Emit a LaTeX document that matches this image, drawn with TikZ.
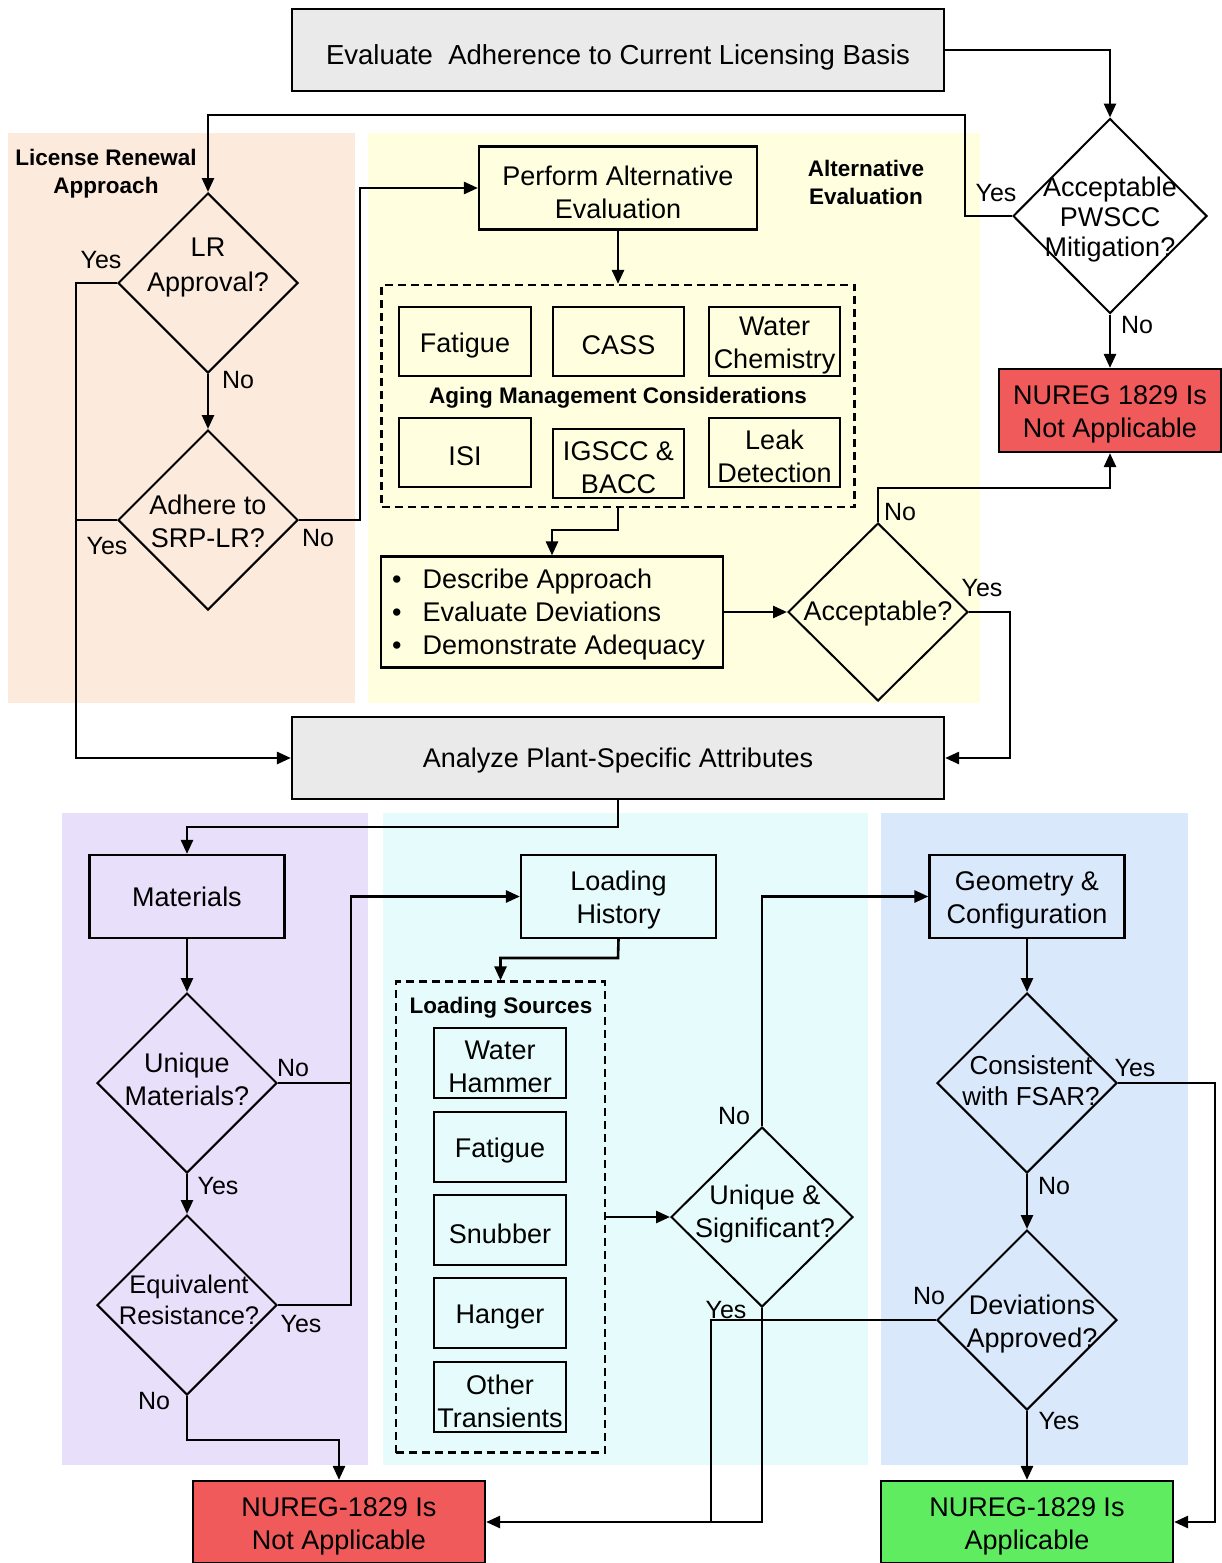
\documentclass[tikz,border=0pt]{standalone}
\usepackage{fontspec}
\setmainfont{Liberation Sans}
\usetikzlibrary{shapes.geometric,arrows.meta}
\definecolor{bgpeach}{RGB}{252,234,220}
\definecolor{bgyellow}{RGB}{255,255,224}
\definecolor{bgpurple}{RGB}{232,224,250}
\definecolor{bgcyan}{RGB}{230,252,252}
\definecolor{bgblue}{RGB}{218,232,252}
\definecolor{graybox}{RGB}{234,234,234}
\definecolor{redbox}{RGB}{240,90,90}
\definecolor{greenbox}{RGB}{96,236,96}
\newcommand\szA{\fontsize{27}{33}\selectfont}
\newcommand\szB{\fontsize{22.5}{28}\selectfont\bfseries}
\newcommand\szC{\fontsize{25}{30}\selectfont}
\tikzset{
  x=1pt, y=-1pt,
  box/.style={draw, line width=2.2pt, align=center, inner sep=0pt, font=\szA},
  btext/.style={label={[dtext, yshift=-4pt]center:#1}},
  dashbox/.style={draw, line width=2.2pt, dash pattern=on 8pt off 5pt, inner sep=0pt},
  dia/.style={draw, diamond, line width=2pt, inner sep=0pt, minimum width=180pt, minimum height=180pt},
  dtext/.style={align=center, inner sep=0pt, font=\szA},
  lbl/.style={inner sep=0pt, font=\szC},
  grp/.style={align=center, inner sep=0pt, font=\szB},
  conn/.style={line width=2.6pt, -{Triangle[length=14pt,width=12pt]}},
  plain/.style={line width=2.6pt},
}
\begin{document}
\begin{tikzpicture}
\useasboundingbox (0,0) rectangle (1222,1563);
% background regions
\fill[bgpeach] (8,133) rectangle (355,703);
\fill[bgyellow] (368,133) rectangle (980,703);
\fill[bgpurple] (62,813) rectangle (368,1465);
\fill[bgcyan] (383,813) rectangle (868,1465);
\fill[bgblue] (881,813) rectangle (1188,1465);

% group labels
\node[grp] (glr) at (106,174) {License Renewal\\Approach};
\node[grp] (gae) at (866,182) {Alternative\\Evaluation};

% top
\node[box, fill=graybox, minimum width=652pt, minimum height=82pt] (eval) at (618,50) {};
\node[dtext, font=\fontsize{27.5}{33}\selectfont] (evalt) at (618,57) {Evaluate\ \ Adherence to Current Licensing Basis};
\node[dia, fill=white, minimum width=194pt, minimum height=195pt] (pw) at (1110,216) {};
\node[dtext, font=\fontsize{27}{30}\selectfont] at (1110,220) {Acceptable\\PWSCC\\Mitigation?};
\node[box, fill=redbox, minimum width=222pt, minimum height=83pt, btext={NUREG 1829 Is\\Not Applicable}] (red1) at (1110,410.5) {};

% license renewal
\node[dia] (lr) at (208,283) {};
\node[dtext, font=\fontsize{27}{35}\selectfont] at (208,268) {LR\\Approval?};
\node[dia] (ad) at (208,520) {};
\node[dtext] at (208,521) {Adhere to\\SRP-LR?};

% alternative evaluation
\node[box, minimum width=278pt, minimum height=83pt, btext={Perform Alternative\\Evaluation}] (pe) at (618,188) {};
\node[dashbox, minimum width=473pt, minimum height=222pt] (dash1) at (618,396) {};
\node[box, minimum width=132pt, minimum height=69pt, btext={Fatigue}] (fat1) at (465,341.5) {};
\node[box, minimum width=131pt, minimum height=69pt, btext={CASS}] (cass) at (618.5,341.5) {};
\node[box, minimum width=131pt, minimum height=69pt, btext={Water\\Chemistry}] (wc) at (774.5,341.5) {};
\node[grp] (amc) at (618,398) {Aging Management Considerations};
\node[box, minimum width=132pt, minimum height=69pt, btext={ISI}] (isi) at (465,452.5) {};
\node[box, minimum width=131pt, minimum height=69pt, btext={IGSCC \&\\BACC}] (igscc) at (618.5,463.5) {};
\node[box, minimum width=131pt, minimum height=69pt, btext={Leak\\Detection}] (leak) at (774.5,452.5) {};
\node[box, minimum width=342pt, minimum height=111pt] (desc) at (552,612) {};
\node[dtext, align=left, anchor=west] at (392,615) {\textbullet\hspace{21pt}Describe Approach\\\textbullet\hspace{21pt}Evaluate Deviations\\\textbullet\hspace{21pt}Demonstrate Adequacy};
\node[dia, minimum height=178pt] (acc) at (878,612) {};
\node[dtext] at (878,614) {Acceptable?};

% analyze
\node[box, fill=graybox, minimum width=652pt, minimum height=82pt] (an) at (618,758) {};
\node[dtext] (ant) at (618,761) {Analyze Plant-Specific Attributes};

% materials
\node[box, minimum width=195pt, minimum height=83pt] (mat) at (187,896.5) {Materials};
\node[dia] (um) at (187,1083) {};
\node[dtext] at (187,1079) {Unique\\Materials?};
\node[dia] (er) at (187,1305) {};
\node[dtext, font=\fontsize{25.5}{31}\selectfont] at (189,1300) {Equivalent\\Resistance?};
\node[box, fill=redbox, minimum width=292pt, minimum height=82pt, btext={NUREG-1829 Is\\Not Applicable}] (red2) at (339,1522) {};

% loading
\node[box, minimum width=195pt, minimum height=83pt, btext={Loading\\History}] (lh) at (618.5,896.5) {};
\node[dashbox, minimum width=209pt, minimum height=471pt] (dash2) at (500.5,1217) {};
\node[grp] (ls) at (501,1008) {Loading Sources};
\node[box, minimum width=132pt, minimum height=70pt, btext={Water\\Hammer}] (wh) at (500,1063) {};
\node[box, minimum width=132pt, minimum height=70pt, btext={Fatigue}] (fat2) at (500,1147) {};
\node[box, minimum width=132pt, minimum height=70pt, btext={Snubber}] (snub) at (500,1230) {};
\node[box, minimum width=132pt, minimum height=70pt, btext={Hanger}] (hang) at (500,1313) {};
\node[box, minimum width=132pt, minimum height=70pt, btext={Other\\Transients}] (ot) at (500,1397) {};
\node[dia, minimum width=182pt] (us) at (762,1217) {};
\node[dtext] at (765,1214) {Unique \&\\Significant?};

% geometry
\node[box, minimum width=195pt, minimum height=83pt, btext={Geometry \&\\Configuration}] (geo) at (1027,896.5) {};
\node[dia] (cf) at (1027,1083) {};
\node[dtext, font=\fontsize{26}{31}\selectfont] at (1031,1081) {Consistent\\with FSAR?};
\node[dia] (dev) at (1027,1320) {};
\node[dtext] at (1032,1324) {Deviations\\Approved?};
\node[box, fill=greenbox, minimum width=292pt, minimum height=82pt, btext={NUREG-1829 Is\\Applicable}] (green) at (1027,1522) {};

% connectors top
\draw[conn] (eval.east) -| (pw.north);
\draw[conn] (pw.west) -| (965,115) -| (lr.north);
\draw[conn] (pw.south) -- (red1.north);
\draw[conn] (acc.north) -- (878,488) -| (red1.south);
\draw[conn] (lr.west) -- (76,283) |- (an.west);
\draw[plain] (ad.west) -- (76,520);
\draw[conn] (lr.south) -- (ad.north);
\draw[conn] (ad.east) -- (360,520) |- (pe.west);
\draw[conn] (pe.south) -- (dash1.north);
\draw[conn] (dash1.south) -- (618,530) -| (desc.north);
\draw[conn] (desc.east) -- (acc.west);
\draw[conn] (acc.east) -- (1010,612) |- (an.east);
% connectors bottom
\draw[conn] (an.south) -- (618,827) -| (mat.north);
\draw[conn] (mat.south) -- (um.north);
\draw[plain] (um.east) -- (351,1083);
\draw[conn] (er.east) -- (351,1305) |- (lh.west);
\draw[conn] (um.south) -- (er.north);
\draw[conn] (er.south) -- (187,1440) -| (red2.north);
\draw[conn] (lh.south) -- (618,958) -| (dash2.north);
\draw[conn] (dash2.east) -- (us.west);
\draw[conn] (us.north) |- (geo.west);
\draw[conn] (us.south) |- (red2.east);
\draw[plain] (dev.west) -- (711,1320) -- (711,1522);
\draw[conn] (geo.south) -- (cf.north);
\draw[conn] (cf.east) -- (1215,1083) |- (green.east);
\draw[conn] (cf.south) -- (dev.north);
\draw[conn] (dev.south) -- (green.north);

% yes/no labels
\node[lbl] (l1) at (996,193) {Yes};
\node[lbl] (l2) at (1137,325) {No};
\node[lbl] (l3) at (900,512) {No};
\node[lbl] (l4) at (982,588) {Yes};
\node[lbl] (l5) at (101,260) {Yes};
\node[lbl] (l6) at (238,380) {No};
\node[lbl] (l7) at (107,546) {Yes};
\node[lbl] (l8) at (318,538) {No};
\node[lbl] (l9) at (293,1068) {No};
\node[lbl] (l10) at (218,1186) {Yes};
\node[lbl] (l11) at (301,1324) {Yes};
\node[lbl] (l12) at (154,1401) {No};
\node[lbl] (l13) at (734,1116) {No};
\node[lbl] (l14) at (726,1310) {Yes};
\node[lbl] (l15) at (1135,1068) {Yes};
\node[lbl] (l16) at (1054,1186) {No};
\node[lbl] (l17) at (929,1296) {No};
\node[lbl] (l18) at (1059,1421) {Yes};
\end{tikzpicture}
\end{document}
